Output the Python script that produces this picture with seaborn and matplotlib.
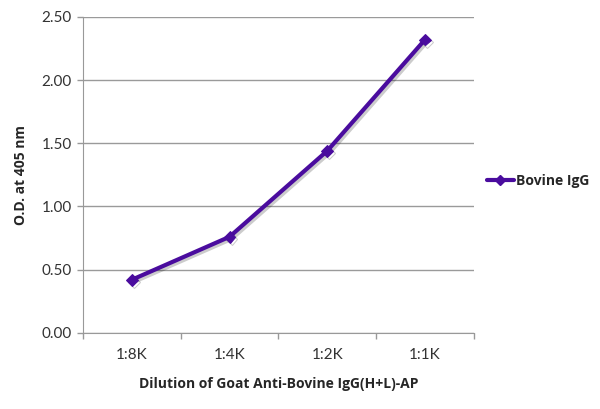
import numpy as np
import pandas as pd
import matplotlib
matplotlib.use("Agg")
import matplotlib.pyplot as plt
import matplotlib.patheffects as pe
from matplotlib.ticker import FixedLocator
import seaborn as sns

# chart data
dilutions = ['1:8K', '1:4K', '1:2K', '1:1K']
od_values = [0.42, 0.76, 1.44, 2.32]
series_name = 'Bovine IgG'
y_ticks = [0.0, 0.5, 1.0, 1.5, 2.0, 2.5]

sns.set_style('white')
plt.rcParams['font.family'] = ['Lato', 'DejaVu Sans']

df = pd.DataFrame({'dilution': dilutions, 'od': od_values, 'series': series_name})

fig = plt.figure(figsize=(6, 4.09), dpi=100)
ax = fig.add_axes([0.138, 0.186, 0.652, 0.773])

line_color = '#4a0c9e'
sns.lineplot(data=df, x='dilution', y='od', hue='series', palette=[line_color],
             marker='D', markersize=6, markeredgecolor=line_color, linewidth=3,
             sort=False, ax=ax, legend=False)
for ln in ax.lines:
    ln.set_path_effects([pe.SimpleLineShadow(offset=(1.5, -1.5), alpha=0.2), pe.Normal()])

ax.set_xlim(-0.5, len(dilutions) - 0.5)
ax.set_ylim(0, 2.5)
ax.set_yticks(y_ticks)
ax.set_yticklabels([f'{v:.2f}' for v in y_ticks], fontsize=11, color='#333333')
ax.set_xticks(range(len(dilutions)))
ax.set_xticklabels(dilutions, fontsize=11, color='#333333')
ax.xaxis.set_minor_locator(FixedLocator(np.arange(-0.5, len(dilutions), 1.0)))
ax.tick_params(axis='x', which='major', length=0, pad=11)
ax.tick_params(axis='x', which='minor', length=4, color='#999999', width=1, direction='out')
ax.tick_params(axis='y', length=4, color='#999999', width=1, direction='out', pad=4)
ax.tick_params(axis='y', which='major', left=True)
ax.tick_params(axis='x', which='minor', bottom=True)

ax.grid(axis='y', color='#9a9a9a', linewidth=1)
ax.set_axisbelow(True)
for side in ['top', 'right']:
    ax.spines[side].set_visible(False)
ax.spines['left'].set_color('#999999')
ax.spines['bottom'].set_color('#999999')

bold_font = ['Open Sans', 'DejaVu Sans']
ax.set_xlabel('Dilution of Goat Anti-Bovine IgG(H+L)-AP', fontsize=10, fontweight='bold',
              family=bold_font, labelpad=11)
ax.set_ylabel('O.D. at 405 nm', fontsize=10, fontweight='bold', family=bold_font, labelpad=10)

handle = plt.Line2D([], [], color=line_color, linewidth=3, marker='D', markersize=5)
ax.legend([handle], [series_name], loc='center left', bbox_to_anchor=(1.0, 0.48),
          frameon=False, handlelength=2.0, handletextpad=0.1,
          prop={'weight': 'bold', 'size': 10, 'family': bold_font})

fig.savefig('out.png', dpi=100)
